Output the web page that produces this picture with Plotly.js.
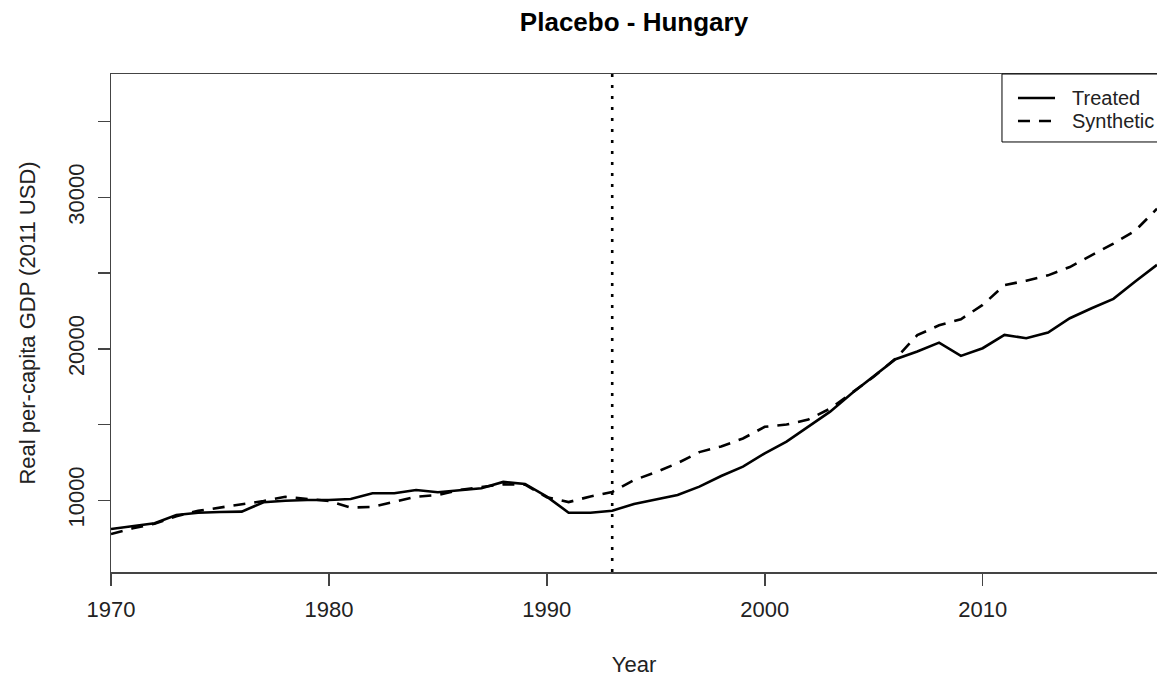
<!DOCTYPE html>
<html>
<head>
<meta charset="utf-8">
<script src="https://cdn.plot.ly/plotly-3.0.1.min.js"></script>
<style>html,body{margin:0;padding:0;background:#fff;}#chart{width:1157px;height:677px;}</style>
</head>
<body>
<div id="chart"></div>
<script>
const years = [1970,1971,1972,1973,1974,1975,1976,1977,1978,1979,1980,1981,1982,1983,1984,1985,1986,1987,1988,1989,1990,1991,1992,1993,1994,1995,1996,1997,1998,1999,2000,2001,2002,2003,2004,2005,2006,2007,2008,2009,2010,2011,2012,2013,2014,2015,2016,2017,2018];
const treated = [8100,8300,8480,9030,9180,9230,9250,9870,9970,10020,10020,10080,10460,10460,10680,10530,10680,10790,11210,11080,10240,9180,9180,9310,9760,10070,10350,10900,11600,12220,13100,13870,14860,15850,17070,18170,19310,19820,20410,19530,20040,20920,20700,21070,22020,22680,23300,24440,25540];
const synthetic = [7770,8150,8450,8950,9300,9500,9750,9950,10230,10070,9950,9520,9560,9900,10230,10350,10680,10880,11050,11030,10200,9880,10250,10550,11330,11850,12450,13180,13550,14080,14850,15000,15330,16050,17100,18150,19350,20900,21550,21950,22900,24200,24500,24850,25400,26150,26950,27800,29250];
const treatmentYear = 1993;
const xTickVals = [1970,1980,1990,2000,2010];
const xTickText = ['1970','1980','1990','2000','2010'];
const yTickVals = [10000,15000,20000,25000,30000,35000];
const yTickText = ['10000','','20000','','30000',''];
const seriesNames = ['Treated','Synthetic'];
const seriesDash = ['solid','12px,9px'];

const font = 'Liberation Sans, Arial, sans-serif';
const lineW = 2.6;
const traces = [
  {x: years, y: treated, name: seriesNames[0], type: 'scatter', mode: 'lines',
   line: {color: '#000', width: lineW, dash: seriesDash[0]}},
  {x: years, y: synthetic, name: seriesNames[1], type: 'scatter', mode: 'lines',
   line: {color: '#000', width: lineW, dash: seriesDash[1]}}
];

// legend drawn manually (paper coordinates)
const legX0 = 0.8518, legX1 = 1.05, legY0 = 0.8635, legY1 = 1.0;
const sampleX0 = 0.8671, sampleX1 = 0.9025, textX = 0.9168;
const rowY = [0.9518, 0.9056];
const shapes = [
  {type: 'line', xref: 'x', yref: 'paper', x0: treatmentYear, x1: treatmentYear, y0: 0, y1: 1,
   line: {color: '#000', width: lineW, dash: '3px,8px'}},
  {type: 'rect', xref: 'paper', yref: 'paper', x0: legX0, x1: legX1, y0: legY0, y1: legY1,
   line: {color: '#000', width: 1}, fillcolor: '#fff', layer: 'above'}
];
const annotations = [];
seriesNames.forEach((n, i) => {
  shapes.push({type: 'line', xref: 'paper', yref: 'paper', x0: sampleX0, x1: sampleX1, y0: rowY[i], y1: rowY[i],
               line: {color: '#000', width: lineW, dash: seriesDash[i]}, layer: 'above'});
  annotations.push({xref: 'paper', yref: 'paper', x: textX, y: rowY[i], xanchor: 'left', yanchor: 'middle',
                    text: n, showarrow: false, font: {family: font, size: 20, color: '#222'}});
});

const layout = {
  width: 1157, height: 677,
  margin: {l: 111, r: 0, t: 74, b: 105},
  paper_bgcolor: '#fff', plot_bgcolor: '#fff',
  font: {family: font, color: '#222', size: 22},
  title: {text: '<b>Placebo - Hungary</b>', font: {family: font, size: 26, color: '#000'},
          x: 0.5, xref: 'paper', xanchor: 'center', y: 0.967, yref: 'container', yanchor: 'middle'},
  xaxis: {range: [1970, 2018], tickvals: xTickVals, ticktext: xTickText,
          showgrid: false, zeroline: false, showline: true, mirror: true,
          linecolor: '#444', linewidth: 1.5, ticks: 'outside', ticklen: 12, tickwidth: 1.5, tickcolor: '#444',
          ticklabelstandoff: 5,
          tickfont: {size: 22, color: '#222'},
          title: {text: 'Year', font: {size: 22, color: '#222'}, standoff: 36}},
  yaxis: {range: [5264, 38144], tickvals: yTickVals, ticktext: yTickText, tickangle: -90,
          showgrid: false, zeroline: false, showline: true, mirror: false,
          linecolor: '#444', linewidth: 1.5, ticks: 'outside', ticklen: 12, tickwidth: 1.5, tickcolor: '#444',
          ticklabelstandoff: 5,
          tickfont: {size: 22, color: '#222'},
          title: {text: 'Real per-capita GDP (2011 USD)', font: {size: 22, color: '#222'}, standoff: 22}},
  showlegend: false,
  shapes: shapes,
  annotations: annotations
};
Plotly.newPlot('chart', traces, layout, {displayModeBar: false, staticPlot: true});
</script>
</body>
</html>
